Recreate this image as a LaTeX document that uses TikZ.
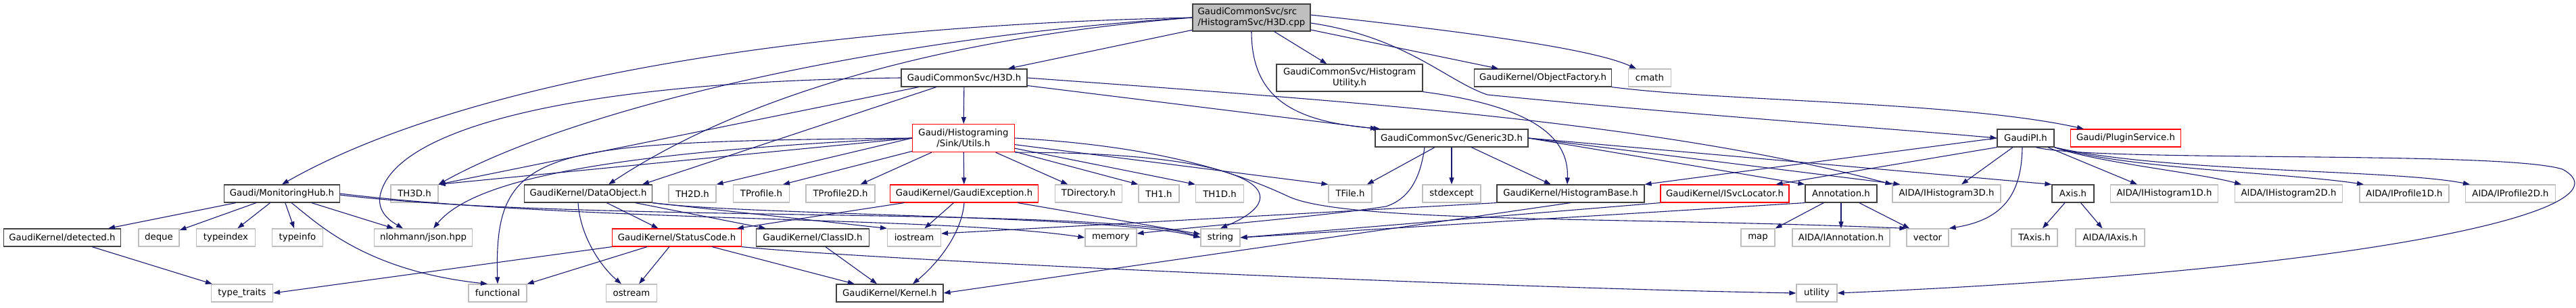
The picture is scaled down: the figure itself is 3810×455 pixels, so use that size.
\documentclass[tikz,border=0pt]{standalone}
\usepackage{fontspec}
\setmainfont{DejaVu Sans}
\usetikzlibrary{arrows.meta}
\definecolor{edgeblue}{HTML}{191970}
\definecolor{extgray}{HTML}{BFBFBF}
\definecolor{rootgray}{HTML}{BFBFBF}
\definecolor{cutred}{HTML}{FF0000}
\definecolor{docdark}{HTML}{404040}

\begin{document}
\begin{tikzpicture}
  [x=1pt,y=-1pt,
   every node/.style={draw,fill=white,inner sep=0pt,minimum height=26pt,font=\fontsize{13.3}{15.5}\selectfont},
   docbox/.style={draw=docdark,line width=1.2pt},
   extbox/.style={draw=extgray,line width=1.2pt},
   cutbox/.style={draw=cutred,line width=1.2pt},
   inc/.style={draw=edgeblue,line width=1.1pt,-{Triangle[length=10pt,width=7pt]}}]
  \useasboundingbox (0,0) rectangle (3810,455);

  \node[docbox,fill=rootgray,align=left,minimum width=174pt,minimum height=40pt] (cpp) at (1851,26) {GaudiCommonSvc/src\\/HistogramSvc/H3D.cpp};

  \node[docbox,minimum width=186pt] (h3dh) at (1426,115) {GaudiCommonSvc/H3D.h};
  \node[docbox,align=center,minimum width=216pt,minimum height=40pt] (histutil) at (1996,115) {GaudiCommonSvc/Histogram\\Utility.h};
  \node[docbox,minimum width=203pt] (objfact) at (2282,115) {GaudiKernel/ObjectFactory.h};
  \node[extbox,minimum width=63pt] (cmath) at (2440,115) {cmath};

  \node[cutbox,align=center,minimum width=151pt,minimum height=41pt] (utils) at (1425,204) {Gaudi/Histograming\\/Sink/Utils.h};
  \node[docbox,minimum width=226pt] (generic) at (2147,204) {GaudiCommonSvc/Generic3D.h};
  \node[docbox,minimum width=84pt] (gaudipi) at (2996,204) {GaudiPI.h};
  \node[cutbox,minimum width=163pt] (plugin) at (3144,204) {Gaudi/PluginService.h};

  \node[docbox,minimum width=171pt] (monhub) at (417,286) {Gaudi/MonitoringHub.h};
  \node[extbox,minimum width=70pt] (th3d) at (613,286) {TH3D.h};
  \node[docbox,minimum width=189pt] (dataobj) at (870,286) {GaudiKernel/DataObject.h};
  \node[extbox,minimum width=70pt] (th2d) at (1024,286) {TH2D.h};
  \node[extbox,minimum width=83pt] (tprof) at (1126,286) {TProfile.h};
  \node[extbox,minimum width=102pt] (tprof2d) at (1243,286) {TProfile2D.h};
  \node[cutbox,minimum width=219pt] (gexc) at (1426,286) {GaudiKernel/GaudiException.h};
  \node[extbox,minimum width=99pt] (tdir) at (1610,286) {TDirectory.h};
  \node[extbox,minimum width=60pt] (th1) at (1714,286) {TH1.h};
  \node[extbox,minimum width=71pt] (th1d) at (1804,286) {TH1D.h};
  \node[extbox,minimum width=64pt] (tfile) at (1997,286) {TFile.h};
  \node[extbox,minimum width=86pt] (stdexc) at (2147,286) {stdexcept};
  \node[docbox,minimum width=218pt] (histbase) at (2323,286) {GaudiKernel/HistogramBase.h};
  \node[cutbox,minimum width=190pt] (svcloc) at (2551,286) {GaudiKernel/ISvcLocator.h};
  \node[docbox,minimum width=106pt] (annot) at (2723,286) {Annotation.h};
  \node[extbox,minimum width=160pt] (ih3d) at (2879,286) {AIDA/IHistogram3D.h};
  \node[docbox,minimum width=62pt] (axis) at (3066,286) {Axis.h};
  \node[extbox,minimum width=159pt] (ih1d) at (3201,286) {AIDA/IHistogram1D.h};
  \node[extbox,minimum width=159pt] (ih2d) at (3385,286) {AIDA/IHistogram2D.h};
  \node[extbox,minimum width=132pt] (ip1d) at (3556,286) {AIDA/IProfile1D.h};
  \node[extbox,minimum width=133pt] (ip2d) at (3713,286) {AIDA/IProfile2D.h};

  \node[docbox,minimum width=173pt] (detected) at (92,351) {GaudiKernel/detected.h};
  \node[extbox,minimum width=60pt] (deque) at (235,351) {deque};
  \node[extbox,minimum width=87pt] (typeindex) at (334,351) {typeindex};
  \node[extbox,minimum width=75pt] (typeinfo) at (440,351) {typeinfo};
  \node[extbox,minimum width=145pt] (json) at (626,351) {nlohmann/json.hpp};
  \node[cutbox,minimum width=191pt] (status) at (1001,351) {GaudiKernel/StatusCode.h};
  \node[docbox,minimum width=167pt] (classid) at (1202,351) {GaudiKernel/ClassID.h};
  \node[extbox,minimum width=79pt] (iostream) at (1352,351) {iostream};
  \node[extbox,minimum width=76pt] (memory) at (1643,351) {memory};
  \node[extbox,minimum width=58pt] (string) at (1805,351) {string};
  \node[extbox,minimum width=50pt] (map) at (2600,351) {map};
  \node[extbox,minimum width=144pt] (iannot) at (2723,351) {AIDA/IAnnotation.h};
  \node[extbox,minimum width=62pt] (vector) at (2851,351) {vector};
  \node[extbox,minimum width=68pt] (taxis) at (3009,351) {TAxis.h};
  \node[extbox,minimum width=102pt] (iaxis) at (3121,351) {AIDA/IAxis.h};

  \node[extbox,minimum width=91pt] (typetraits) at (358,433) {type\_traits};
  \node[extbox,minimum width=86pt] (functional) at (736,433) {functional};
  \node[extbox,minimum width=75pt] (ostream) at (934,433) {ostream};
  \node[docbox,minimum width=158pt] (kernel) at (1316,433) {GaudiKernel/Kernel.h};
  \node[extbox,minimum width=60pt] (utility) at (2687,433) {utility};

\foreach \from/\to in
{cpp/h3dh, cpp/histutil, cpp/objfact, h3dh/utils, h3dh/generic,
 utils/gexc, utils/tdir, generic/tfile, generic/stdexc, generic/histbase,
 monhub/detected, monhub/deque, monhub/typeindex, monhub/typeinfo, monhub/json,
 dataobj/status, dataobj/classid, gexc/status, gexc/iostream, gexc/string,
 annot/map, annot/iannot, annot/vector, axis/taxis, axis/iaxis,
 detected/typetraits, status/functional, status/ostream, status/kernel, classid/kernel}
    \draw[inc] (\from) -- (\to);

  \draw[inc] (cpp.west) .. controls (1100,40) and (650,140) .. (monhub.north);
  \draw[inc] (cpp.west) .. controls (1300,55) and (850,160) .. (th3d.north east);
  \draw[inc] (cpp.west) .. controls (1400,55) and (1100,140) .. ([xshift=30pt]dataobj.north);
  \draw[inc] (cpp.south) .. controls (1851,150) and (1920,180) .. ([xshift=8pt]generic.north west);
  \draw[inc] ([yshift=4pt]cpp.east) .. controls (2150,45) and (2350,70) .. ([xshift=-20pt]cmath.north);
  \draw[inc] ([yshift=-8pt]cpp.east) .. controls (2080,55) and (2140,120) .. (2200,140)
    .. controls (2500,170) and (2800,190) .. (gaudipi.west);
  \draw[inc] (objfact.south east) .. controls (2550,150) and (2900,150) .. ([xshift=20pt]plugin.north west);
  \draw[inc] (histutil.south east) .. controls (2290,160) and (2320,215) .. ([xshift=-5pt]histbase.north);

  \draw[inc] (h3dh) -- (th3d.north east);
  \draw[inc] (h3dh) -- ([xshift=80pt]dataobj.north);
  \draw[inc] (h3dh.west) .. controls (850,120) and (580,190) .. (562,290)
    .. controls (558,315) and (580,328) .. ([xshift=-30pt]json.north);
  \draw[inc] (h3dh.east) .. controls (2000,150) and (2450,180) .. (ih3d.north west);

  \draw[inc] (utils.west) -- (th3d.north east);
  \draw[inc] (utils.west) -- (th2d.north east);
  \draw[inc] (utils) -- ([xshift=-10pt]tprof.north east);
  \draw[inc] (utils) -- ([xshift=-22pt]tprof2d.north east);
  \draw[inc] (utils) -- (th1.north west);
  \draw[inc] (utils) -- (th1d.north west);
  \draw[inc] (utils) -- (tfile.north west);
  \draw[inc] (utils.west) .. controls (900,225) and (700,265) .. ([xshift=15pt]json.north);
  \draw[inc] (utils.west) .. controls (800,210) and (730,215) .. (functional.north);
  \draw[inc] (utils.south east) .. controls (1850,225) and (1930,285) .. (string.north);
  \draw[inc] (utils.east) .. controls (1700,215) and (1820,250) .. (1905,290)
    .. controls (1990,330) and (2400,320) .. (vector.north west);

  \draw[inc] (generic.east) -- (annot.north west);
  \draw[inc] (generic.east) -- ([xshift=12pt]ih3d.north west);
  \draw[inc] (generic.east) -- (axis.north west);
  \draw[inc] ([xshift=-40pt]generic.south) .. controls (2100,270) and (2080,295) .. (2050,305)
    .. controls (1950,320) and (1800,332) .. ([yshift=6pt]memory.east);

  \draw[inc] (gaudipi.west) -- (histbase.north east);
  \draw[inc] (gaudipi.south west) -- ([xshift=-20pt]svcloc.north east);
  \draw[inc] (gaudipi) -- ([xshift=22pt]ih3d.north);
  \draw[inc] (gaudipi) -- ([xshift=-40pt]ih1d.north);
  \draw[inc] (gaudipi.south east) .. controls (3100,240) and (3250,255) .. ([xshift=-70pt]ih2d.north);
  \draw[inc] (gaudipi.south east) .. controls (3150,250) and (3380,255) .. ([xshift=-60pt]ip1d.north);
  \draw[inc] (gaudipi.south east) .. controls (3200,255) and (3540,250) .. ([xshift=-60pt]ip2d.north);
  \draw[inc] ([xshift=-5pt]gaudipi.south) .. controls (2990,290) and (2960,325) .. (vector.north east);
  \draw[inc] ([xshift=15pt]gaudipi.south) .. controls (3100,240) and (3700,222) .. (3790,250)
    .. controls (3900,310) and (3500,400) .. (utility.east);

  \draw[inc] ([xshift=14pt]monhub.south) .. controls (470,330) and (540,400) .. ([xshift=-15pt]functional.north);
  \draw[inc] (monhub.east) .. controls (850,328) and (1400,320) .. (memory.west);
  \draw[inc] ([yshift=-2pt]monhub.east) .. controls (850,330) and (1650,305) .. (string.west);

  \draw[inc] (dataobj.south east) -- (iostream.north west);
  \draw[inc] (dataobj.south east) .. controls (1100,318) and (1650,318) .. (string.west);
  \draw[inc] ([xshift=-15pt]dataobj.south) .. controls (858,350) and (890,395) .. ([xshift=-15pt]ostream.north);

  \draw[inc] (gexc.south) .. controls (1422,350) and (1380,395) .. ([xshift=34pt]kernel.north);
  \draw[inc] (histbase.south west) -- ([yshift=6pt]iostream.east);
  \draw[inc] (histbase.south) -- (kernel.east);
  \draw[inc] (svcloc.south west) -- (string.east);
  \draw[inc] (annot.south west) -- (string.east);
  \draw[inc] (status.south west) -- (typetraits.east);
  \draw[inc] (status.south east) .. controls (1300,385) and (2200,425) .. (utility.west);

\end{tikzpicture}
\end{document}
